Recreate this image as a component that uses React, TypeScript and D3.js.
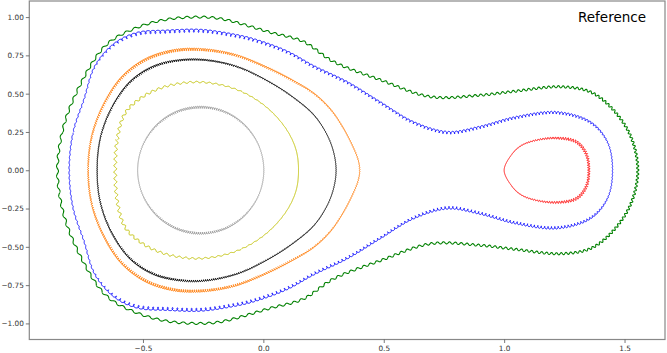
import React, { useEffect, useRef } from "react";
import * as d3 from "d3";

// ---- data (upper halves; lower halves mirrored) ----
const greenUpper: [number, number][] = [
  [-0.855, 0], [-0.836, 0.245], [-0.79, 0.46], [-0.69, 0.75], [-0.628, 0.85], [-0.51, 0.94],
  [-0.40, 0.985], [-0.28, 1.0], [-0.18, 0.99], [0.03, 0.9], [0.166, 0.84], [0.29, 0.71],
  [0.486, 0.59], [0.694, 0.48], [0.9, 0.49], [1.04, 0.515], [1.235, 0.545], [1.36, 0.51],
  [1.45, 0.4], [1.526, 0.22], [1.555, 0],
];
const blueUpper: [number, number][] = [
  [-0.806, 0], [-0.79, 0.245], [-0.745, 0.46], [-0.70, 0.675], [-0.62, 0.82], [-0.525, 0.89],
  [-0.40, 0.905], [-0.26, 0.91], [-0.137, 0.884], [-0.04, 0.85], [0.1, 0.77], [0.21, 0.675],
  [0.35, 0.57], [0.486, 0.44], [0.624, 0.31], [0.765, 0.245], [0.9, 0.28], [1.04, 0.34],
  [1.22, 0.375], [1.36, 0.31], [1.43, 0.18], [1.45, 0],
];
const orangeUpper: [number, number][] = [
  [-0.727, 0], [-0.712, 0.22], [-0.665, 0.42], [-0.59, 0.6], [-0.49, 0.72], [-0.37, 0.78],
  [-0.25, 0.786], [-0.12, 0.752], [0.0, 0.68], [0.11, 0.595], [0.21, 0.5], [0.28, 0.395],
  [0.33, 0.28], [0.37, 0.16], [0.393, 0.07], [0.40, 0],
];
const blackUpper: [number, number][] = [
  [-0.69, 0], [-0.675, 0.22], [-0.625, 0.42], [-0.55, 0.58], [-0.45, 0.68], [-0.33, 0.72],
  [-0.22, 0.715], [-0.1, 0.67], [0.02, 0.58], [0.12, 0.48], [0.21, 0.36], [0.265, 0.23],
  [0.293, 0.11], [0.302, 0],
];
const yellowUpper: [number, number][] = [
  [-0.615, 0], [-0.607, 0.2], [-0.575, 0.37], [-0.51, 0.47], [-0.42, 0.54], [-0.30, 0.575],
  [-0.2, 0.565], [-0.1, 0.52], [-0.01, 0.44], [0.06, 0.34], [0.11, 0.23], [0.138, 0.12], [0.146, 0],
];
const grayUpper: [number, number][] = [
  [-0.522, 0], [-0.502, 0.157], [-0.445, 0.29], [-0.36, 0.38], [-0.26, 0.411], [-0.16, 0.38],
  [-0.075, 0.29], [-0.018, 0.157], [0.002, 0],
];
const redUpper: [number, number][] = [
  [1.0, 0], [1.03, 0.1], [1.07, 0.16], [1.13, 0.195], [1.22, 0.21], [1.30, 0.185],
  [1.34, 0.11], [1.352, 0],
];

const xTicks = [-0.5, 0.0, 0.5, 1.0, 1.5];
const yTicks = [-1.0, -0.75, -0.5, -0.25, 0.0, 0.25, 0.5, 0.75, 1.0];
const titleText = "Reference";

// ---- styles (rendering only) ----
type Style = {
  color: string; width: number; ampL: number; ampR: number; loopL: number; loopR: number;
  wlL: number; wlR: number; horiz: number;
};
const series: { upper: [number, number][]; style: Style }[] = [
  { upper: grayUpper, style: { color: "#999999", width: 0.9, ampL: 1.3, ampR: 0.9, loopL: 0.6, loopR: 0.4, wlL: 2.0, wlR: 2.0, horiz: 0.9 } },
  { upper: yellowUpper, style: { color: "#bfbf00", width: 1.0, ampL: 1.4, ampR: 0.0, loopL: 0, loopR: 0, wlL: 6.5, wlR: 6.5, horiz: 0 } },
  { upper: blackUpper, style: { color: "#000000", width: 1.0, ampL: 1.2, ampR: 0.3, loopL: 0.7, loopR: 0.2, wlL: 2.0, wlR: 2.0, horiz: 0.6 } },
  { upper: orangeUpper, style: { color: "#ff7f0e", width: 1.0, ampL: 1.7, ampR: 0.6, loopL: 1.0, loopR: 0.3, wlL: 2.2, wlR: 2.2, horiz: 0.6 } },
  { upper: blueUpper, style: { color: "#0000ff", width: 0.9, ampL: 1.7, ampR: 1.3, loopL: 1.7, loopR: 0.4, wlL: 5.2, wlR: 3.2, horiz: 0.8 } },
  { upper: greenUpper, style: { color: "#008000", width: 1.1, ampL: 1.0, ampR: 1.1, loopL: 0, loopR: 0, wlL: 10, wlR: 4, horiz: 0 } },
  { upper: redUpper, style: { color: "#ff0000", width: 0.9, ampL: 0.0, ampR: 1.8, loopL: 0, loopR: 0, wlL: 2.5, wlR: 2.5, horiz: 0.3 } },
];

const W = 667, H = 353;
const M = { left: 29.3, right: 665, top: 1, bottom: 339.5 };

export default function App() {
  const ref = useRef<SVGSVGElement>(null);

  useEffect(() => {
    document.body.style.margin = "0";
    const svg = d3.select(ref.current!);
    svg.selectAll("*").remove();

    const x = d3.scaleLinear().domain([-0.972, 1.668]).range([M.left, M.right]);
    const y = d3.scaleLinear().domain([-1.105, 1.105]).range([M.bottom, M.top]);

    svg.append("defs").append("clipPath").attr("id", "clip")
      .append("rect").attr("x", M.left).attr("y", M.top)
      .attr("width", M.right - M.left).attr("height", M.bottom - M.top);

    const g = svg.append("g").attr("clip-path", "url(#clip)");
    const line = d3.line<[number, number]>().x((d) => x(d[0])).y((d) => y(d[1]))
      .curve(d3.curveCatmullRomClosed.alpha(0.5));

    series.forEach(({ upper, style }) => {
      const lower = upper.slice(1, -1).reverse().map((d) => [d[0], -d[1]] as [number, number]);
      const closed = [...upper, ...lower];
      const tmp = g.append("path").attr("d", line(closed)!).attr("fill", "none").attr("stroke", "none");
      const node = tmp.node() as SVGPathElement;
      const L = node.getTotalLength();
      const n = Math.ceil(L / 0.25);
      const ds = L / n;
      const pts: { x: number; y: number }[] = [];
      for (let i = 0; i < n; i++) {
        const p = node.getPointAtLength(i * ds);
        pts.push({ x: p.x, y: p.y });
      }
      tmp.remove();
      const xs = pts.map((p) => p.x);
      const xmin = d3.min(xs)!, xmax = d3.max(xs)!;
      let phase = 0;
      const out: [number, number][] = [];
      for (let i = 0; i <= n; i++) {
        const p = pts[i % n];
        const a = pts[(i - 2 + n) % n], b = pts[(i + 2) % n];
        let tx = b.x - a.x, ty = b.y - a.y;
        const len = Math.hypot(tx, ty) || 1;
        tx /= len; ty /= len;
        const nx = -ty, ny = tx;
        const f = (p.x - xmin) / (xmax - xmin);
        const wgt = 1 - style.horiz + style.horiz * tx * tx;
        const amp = (style.ampL + (style.ampR - style.ampL) * f) * wgt;
        const loop = (style.loopL + (style.loopR - style.loopL) * f) * wgt;
        const wl = style.wlL + (style.wlR - style.wlL) * f;
        phase += (2 * Math.PI * ds) / wl;
        out.push([
          p.x + nx * amp * Math.sin(phase) + tx * loop * Math.cos(phase),
          p.y + ny * amp * Math.sin(phase) + ty * loop * Math.cos(phase),
        ]);
      }
      g.append("path")
        .attr("d", d3.line()(out)!)
        .attr("fill", "none")
        .attr("stroke", style.color)
        .attr("stroke-width", style.width)
        .attr("stroke-linejoin", "round");
    });

    // frame
    svg.append("rect").attr("x", M.left).attr("y", M.top)
      .attr("width", M.right - M.left).attr("height", M.bottom - M.top)
      .attr("fill", "none").attr("stroke", "#888").attr("stroke-width", 1.2);

    const fmt1 = d3.format(".1f");
    const fmt2 = d3.format(".2f");
    const xa = svg.append("g").attr("transform", `translate(0,${M.bottom})`)
      .call(d3.axisBottom(x).tickValues(xTicks).tickSize(3.5).tickSizeOuter(0).tickFormat((d) => fmt1(d as number)));
    const ya = svg.append("g").attr("transform", `translate(${M.left},0)`)
      .call(d3.axisLeft(y).tickValues(yTicks).tickSize(3.5).tickSizeOuter(0).tickFormat((d) => fmt2(d as number)));
    [xa, ya].forEach((a) => {
      a.select(".domain").remove();
      a.selectAll("line").attr("stroke", "#555").attr("stroke-width", 0.8);
      a.selectAll("text").attr("fill", "#333").attr("font-family", "DejaVu Sans").attr("font-size", 7.3);
    });
    xa.selectAll("text").attr("dy", "0.71em").attr("y", 6);
    ya.selectAll("text").attr("x", -5.5);

    svg.append("text").attr("x", 646).attr("y", 21.5).attr("text-anchor", "end")
      .attr("font-family", "DejaVu Sans").attr("font-size", 13.5).attr("fill", "#000")
      .text(titleText);
  }, []);

  return (
    <svg ref={ref} width={W} height={H} style={{ display: "block", position: "absolute", left: 0, top: 0, background: "#fff" }} />
  );
}
